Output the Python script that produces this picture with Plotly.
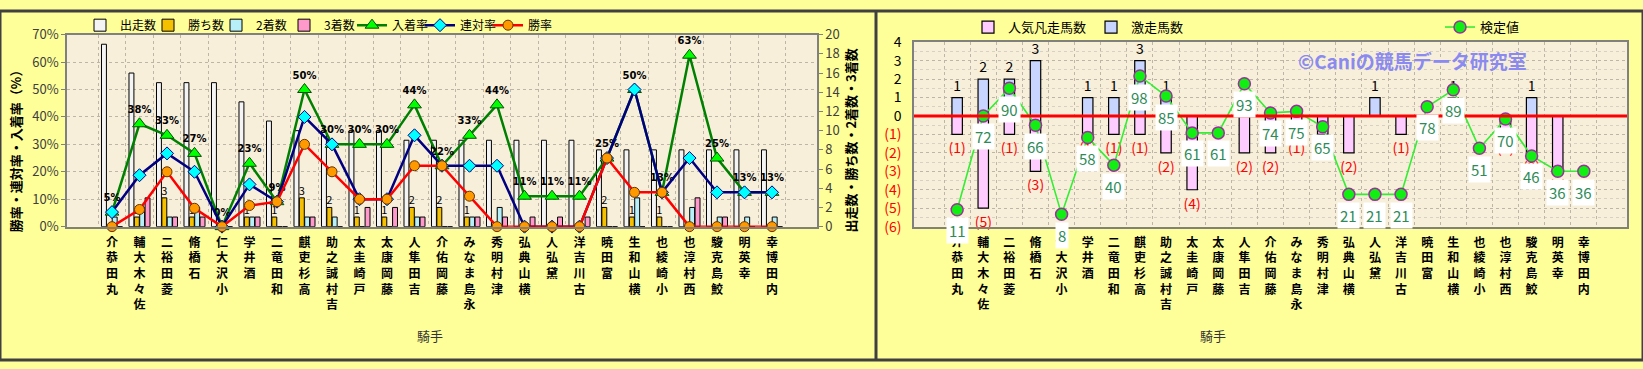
import plotly.graph_objects as go

# ---------------- data ----------------
names = ["丸田 恭介", "佐々木 大輔", "菱田 裕二", "石橋 脩", "小沢 大仁", "酒井 学", "和田 竜二",
         "高杉 吏麒", "吉村 誠之助", "戸崎 圭太", "藤岡 康太", "吉田 隼人", "藤岡 佑介", "永島 まなみ",
         "津村 明秀", "横山 典弘", "黛 弘人", "古川 吉洋", "富田 暁", "横山 和生", "小崎 綾也",
         "西村 淳也", "鮫島 克駿", "幸 英明", "内田 博幸"]

starts = [19, 16, 15, 15, 15, 13, 11, 10, 10, 10, 10, 9, 9, 9, 9, 9, 9, 9, 8, 8, 8, 8, 8, 8, 8]
wins = [0, 1, 3, 1, 0, 1, 1, 3, 2, 1, 1, 2, 2, 1, 0, 0, 0, 0, 2, 1, 1, 0, 0, 0, 0]
seconds = [1, 2, 1, 2, 0, 1, 0, 1, 1, 0, 0, 1, 0, 1, 2, 0, 0, 0, 0, 3, 0, 2, 1, 1, 1]
thirds = [0, 3, 1, 1, 0, 1, 0, 1, 0, 2, 2, 1, 0, 1, 1, 1, 1, 1, 0, 0, 0, 3, 1, 0, 0]

place_rate = [0.053, 0.375, 0.333, 0.267, 0.0, 0.231, 0.091, 0.50, 0.30, 0.30, 0.30, 0.444, 0.222,
              0.333, 0.444, 0.111, 0.111, 0.111, 0.25, 0.50, 0.125, 0.625, 0.25, 0.125, 0.125]
quinella_rate = [0.053, 0.1875, 0.267, 0.20, 0.0, 0.154, 0.091, 0.40, 0.30, 0.10, 0.10, 0.333, 0.222,
                 0.222, 0.222, 0.0, 0.0, 0.0, 0.25, 0.50, 0.125, 0.25, 0.125, 0.125, 0.125]
win_rate = [0.0, 0.0625, 0.20, 0.067, 0.0, 0.077, 0.091, 0.30, 0.20, 0.10, 0.10, 0.222, 0.222,
            0.111, 0.0, 0.0, 0.0, 0.0, 0.25, 0.125, 0.125, 0.0, 0.0, 0.0, 0.0]

upset_counts = [1, 2, 2, 3, 0, 1, 1, 3, 1, 0, 0, 0, 0, 0, 0, 0, 1, 0, 0, 1, 0, 0, 1, 0, 0]   # 激走馬数
flop_counts = [1, 5, 1, 3, 0, 1, 1, 1, 2, 4, 0, 2, 2, 1, 1, 2, 0, 1, 0, 0, 0, 1, 2, 3, 0]    # 人気凡走馬数
kentei = [11, 72, 90, 66, 8, 58, 40, 98, 85, 61, 61, 93, 74, 75, 65, 21, 21, 21, 78, 89, 51, 70, 46, 36, 36]

pct_ticks = [0, 0.1, 0.2, 0.3, 0.4, 0.5, 0.6, 0.7]
count_ticks = [0, 2, 4, 6, 8, 10, 12, 14, 16, 18, 20]
right_tickvals = [-6, -5, -4, -3, -2, -1, 0, 1, 2, 3, 4]
right_ticktext = ["(6)", "(5)", "(4)", "(3)", "(2)", "(1)", "0", "1", "2", "3", "4"]

# ---------------- helpers ----------------
W, H = 1643, 369
def px(x): return x / W
def py(y): return 1 - y / H

FONT = "Noto Sans CJK JP"
stack_text = ["<br>".join(reversed(n.replace(" ", ""))) for n in names]
right_ticks_fmt = [("<span style='color:#FF0000'>%s</span>" % t) if t.startswith("(") else t
                   for t in right_ticktext]

fig = go.Figure()

# ---------- left chart: bars (count axis) ----------
bar_line = dict(color="#000000", width=1)
fig.add_trace(go.Bar(name="出走数", x=names, y=starts, xaxis="x", yaxis="y",
                     marker=dict(color="#F4F4F4", line=bar_line), legend="legend"))
fig.add_trace(go.Bar(name="勝ち数", x=names, y=wins, xaxis="x", yaxis="y",
                     marker=dict(color="#F5C000", line=bar_line), legend="legend",
                     text=[str(v) if v else "" for v in wins], textposition="outside",
                     textfont=dict(size=11, color="#000000", family=FONT),
                     constraintext="none", cliponaxis=False))
fig.add_trace(go.Bar(name="2着数", x=names, y=seconds, xaxis="x", yaxis="y",
                     marker=dict(color="#B8F0FA", line=bar_line), legend="legend"))
fig.add_trace(go.Bar(name="3着数", x=names, y=thirds, xaxis="x", yaxis="y",
                     marker=dict(color="#FF99CC", line=bar_line), legend="legend"))

# ---------- left chart: rate lines (percent axis) ----------
fig.add_trace(go.Scatter(name="入着率", x=names, y=place_rate, xaxis="x", yaxis="y2",
                         mode="lines+markers+text", texttemplate="%{y:.0%}",
                         textposition="top center", cliponaxis=False,
                         textfont=dict(size=10, color="#000000", family="DejaVu Sans", weight="bold"),
                         line=dict(color="#008000", width=2.5),
                         marker=dict(symbol="triangle-up", size=12, color="#00FF00",
                                     line=dict(color="#005000", width=1)),
                         legend="legend"))
fig.add_trace(go.Scatter(name="連対率", x=names, y=quinella_rate, xaxis="x", yaxis="y2",
                         mode="lines+markers", cliponaxis=False,
                         line=dict(color="#000080", width=2.5),
                         marker=dict(symbol="diamond", size=10, color="#00FFFF",
                                     line=dict(color="#000080", width=1)),
                         legend="legend"))
fig.add_trace(go.Scatter(name="勝率", x=names, y=win_rate, xaxis="x", yaxis="y2",
                         mode="lines+markers", cliponaxis=False,
                         line=dict(color="#FF0000", width=2.5),
                         marker=dict(symbol="circle", size=10, color="#FF9900",
                                     line=dict(color="#663300", width=1)),
                         legend="legend"))

# ---------- right chart ----------
fig.add_trace(go.Bar(name="人気凡走馬数", x=names, y=[-v for v in flop_counts], xaxis="x2", yaxis="y3",
                     width=0.4, offset=-0.2,
                     marker=dict(color="#FFCCFF", line=dict(color="#000000", width=1.2)),
                     text=["(%d)" % v if v else "" for v in flop_counts], textposition="outside",
                     textfont=dict(size=14, color="#FF0000", family=FONT),
                     constraintext="none", cliponaxis=False, legend="legend2"))
fig.add_trace(go.Bar(name="激走馬数", x=names, y=upset_counts, xaxis="x2", yaxis="y3",
                     width=0.4, offset=-0.2,
                     marker=dict(color="#C8D6FF", line=dict(color="#000000", width=1.2)),
                     text=[str(v) if v else "" for v in upset_counts], textposition="outside",
                     textfont=dict(size=14, color="#000000", family=FONT),
                     constraintext="none", cliponaxis=False, legend="legend2"))
fig.add_trace(go.Scatter(name="検定値", x=names, y=kentei, xaxis="x2", yaxis="y4",
                         mode="lines+markers", cliponaxis=False,
                         line=dict(color="#33EE33", width=1.6),
                         marker=dict(symbol="circle", size=12, color="#11EE11",
                                     line=dict(color="#993399", width=1.5)),
                         legend="legend3"))

annotations = []
for n, v in zip(names, kentei):
    annotations.append(dict(x=n, y=v, xref="x2", yref="y4", text=str(v), showarrow=False,
                            xanchor="center", yanchor="middle",
                            yshift=-21, bgcolor="#FFFFFF", borderpad=2,
                            font=dict(size=15, color="#2E8B57", family=FONT)))

def note(x, y, text, size, color, angle=0):
    return dict(x=px(x), y=py(y), xref="paper", yref="paper", text=text, showarrow=False,
                xanchor="center", yanchor="middle", textangle=angle,
                font=dict(size=size, color=color, family=FONT))

annotations += [
    note(430, 343, "騎手", 13, "#333333"),
    note(1213, 343, "騎手", 13, "#333333"),
    note(15, 145, "<b>勝率・連対率・入着率（%）</b>", 13, "#000000", -90),
    note(851, 137, "<b>出走数・勝ち数・2着数・3着数</b>", 13, "#000000", -90),
    note(1412, 52, "<b>©Caniの競馬データ研究室</b>", 19, "#8A8AF0"),
]

grid_col = "#BDB6A6"
axis_col = "#808080"
xcommon = dict(type="category", tickmode="array", tickvals=names, ticktext=stack_text, tickangle=0,
               tickson="boundaries", showgrid=True, gridcolor=grid_col, griddash="dot", gridwidth=1,
               showline=True, linecolor=axis_col, linewidth=1.5, mirror=True, ticks="",
               ticklabelstandoff=4,
               tickfont=dict(size=12, color="#000000", family=FONT, weight="bold"), fixedrange=True)

fig.update_layout(
    width=W, height=H, autosize=False,
    margin=dict(l=0, r=0, t=0, b=0),
    paper_bgcolor="#FFFF99", plot_bgcolor="#F7EFDA",
    font=dict(family=FONT, color="#000000"),
    barmode="group", bargap=0.22, bargroupgap=0.08,
    xaxis=dict(domain=[px(67), px(817)], anchor="y", **xcommon),
    yaxis=dict(domain=[py(228), py(25)], anchor="x", side="right", range=[0, 20],
               tickmode="array", tickvals=count_ticks, showgrid=False, zeroline=False,
               showline=True, linecolor=axis_col, linewidth=1.5, ticks="outside", ticklen=4,
               tickcolor=axis_col, tickfont=dict(size=13, color="#404040", family=FONT)),
    yaxis2=dict(overlaying="y", side="left", anchor="x", range=[0, 0.7], tickmode="array",
                tickvals=pct_ticks, tickformat=".0%", showgrid=True, gridcolor=grid_col,
                griddash="dot", zeroline=False, showline=True, linecolor=axis_col, linewidth=1.5,
                ticks="outside", ticklen=4, tickcolor=axis_col,
                tickfont=dict(size=13, color="#404040", family=FONT)),
    xaxis2=dict(domain=[px(914), px(1627)], anchor="y3", **xcommon),
    yaxis3=dict(domain=[py(228), py(33)], anchor="x2", range=[-6, 4], tickmode="array",
                tickvals=right_tickvals, ticktext=right_ticks_fmt, showgrid=True, gridcolor=grid_col,
                griddash="dot", zeroline=False,
                showline=True, linecolor=axis_col, linewidth=1.5, mirror=True, ticks="",
                ticklabelstandoff=8,
                minor=dict(dtick=0.5, showgrid=True, gridcolor="#D8D0C0", griddash="dot"),
                tickfont=dict(size=14, color="#000000", family=FONT)),
    yaxis4=dict(overlaying="y3", range=[0, 120], visible=False),
    legend=dict(orientation="h", x=px(80), y=py(15), xanchor="left", yanchor="middle",
                entrywidth=23, entrywidthmode="pixels",
                bgcolor="rgba(0,0,0,0)", font=dict(size=12, family=FONT), traceorder="normal"),
    legend2=dict(orientation="h", x=px(968), y=py(17), xanchor="left", yanchor="middle",
                 bgcolor="rgba(0,0,0,0)", font=dict(size=13, family=FONT), traceorder="normal"),
    legend3=dict(orientation="h", x=px(1440), y=py(17), xanchor="left", yanchor="middle",
                 bgcolor="rgba(0,0,0,0)", font=dict(size=13, family=FONT)),
    annotations=annotations,
    shapes=[
        dict(type="line", xref="x2 domain", yref="y3", x0=0, x1=1, y0=0, y1=0, layer="above",
             line=dict(color="#FF0000", width=3)),
        dict(type="rect", xref="paper", yref="paper", x0=0, y0=0, x1=1, y1=1,
             line=dict(color="#404040", width=3)),
        dict(type="line", xref="paper", yref="paper", x0=px(876), x1=px(876), y0=0, y1=1,
             line=dict(color="#404040", width=3)),
    ],
)

fig.write_html("out.html")
